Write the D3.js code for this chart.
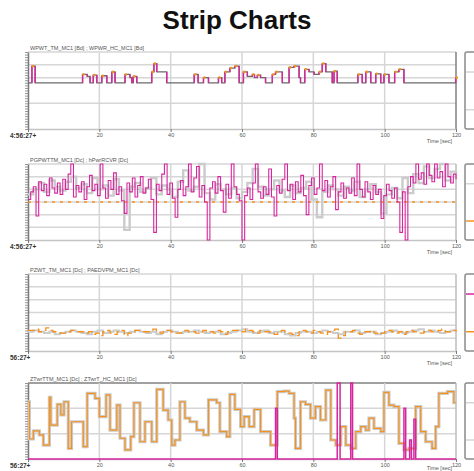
<!DOCTYPE html>
<html>
<head>
<meta charset="utf-8">
<script src="https://cdn.jsdelivr.net/npm/d3@7"></script>
<style>
body { margin: 0; background: #fff; }
svg { display: block; font-family: "Liberation Sans", Arial, sans-serif; }
</style>
</head>
<body>
<div id="chart"></div>
<script>
// ---- data ----
const timeTicks = [0, 20, 40, 60, 80, 100, 120]

const panelTitles = [
    "WPWT_TM_MC1 [Bd] ; WPWR_HC_MC1 [Bd]",
    "PGPWTTM_MC1 [Dc] ; hPwrRCVR [Dc]",
    "PZWT_TM_MC1 [Dc] ; PAEDVPM_MC1 [Dc]",
    "ZTwrTTM_MC1 [Dc] ; ZTwrT_HC_MC1 [Dc]"
]
const stampLabels = ["4:56:27+", "4:56:27+", "56:27+", "56:27+"]

// panel 1 : step events (time in sec, value)
const p1Time = [0, 1.1, 2.0, 15.3, 16.6, 17.4, 18.3, 19.3, 20.7, 22.1, 23.5, 24.4, 27.2, 28.6, 29.1, 29.5, 30.5,
    34.7, 35.3, 36.1, 38.9, 46.6, 47.7, 49.2, 50.6, 53.4, 54.3, 55.2, 56.6, 58.0, 59.2, 60.4, 61.5, 62.9, 63.5,
    64.3, 65.2, 66.6, 68.5, 69.4, 71.3, 73.2, 74.6, 76.0, 76.4, 77.6, 78.8, 80.2, 81.6, 82.5, 83.5, 85.3, 85.8,
    86.7, 92.5, 93.7, 94.7, 96.1, 97.5, 98.9, 99.8, 101.2, 102.8, 104.0, 105.4, 119.9, 120]
const p1Value = [3.6, 4.9, 3.6, 4.25, 4.1, 3.6, 4.2, 3.6, 4.15, 3.6, 4.45, 3.6, 4.25, 4.0, 3.6, 4.1, 3.6,
    4.45, 5.1, 4.45, 3.6, 4.25, 3.6, 4.0, 3.6, 4.0, 3.6, 4.45, 4.75, 4.9, 3.6, 4.45, 4.1, 4.25, 4.0,
    4.2, 4.0, 3.6, 4.25, 4.45, 3.6, 4.8, 4.9, 4.0, 3.6, 4.65, 4.45, 4.25, 4.45, 5.1, 4.45, 3.6, 4.5,
    3.6, 4.25, 3.6, 4.45, 3.6, 4.3, 3.6, 4.25, 3.6, 4.45, 4.65, 3.6, 4.0, 4.0]

// panel 2 : sampled signals
const p2MagentaStep = 0.75
const p2Magenta = [
    0.2, 0.8, 1.2, -1.1, 1.6, 0.9, 1.4, 0.5, 1.9, 1.1, 0.7, 1.5, 0.6, 1.8, 1.0, 2.2, 3.0, 0.4, 1.3, 0.8,
    1.6, 0.2, 1.2, 2.1, 0.9, 1.4, 0.5, 3.0, 1.1, 0.3, 1.7, 1.0, 2.3, 0.6, 1.2, 0.1, -0.9, 1.5, 0.8, 1.9,
    0.4, 1.3, 2.0, 0.7, 1.1, 1.8, 0.2, -2.4, 1.4, 0.9, 2.2, 3.0, 0.6, 1.5, 0.3, -1.2, 1.0, 1.7, 0.5, 1.2,
    3.0, 0.8, 1.9, 2.8, 0.4, 1.3, 0.0, -3.0, 1.1, 1.6, 0.7, 2.0, 0.9, -0.8, 1.4, 0.3, 3.0, 1.2, 0.6, 0.1,
    -3.0, 0.5, 1.1, 0.2, 1.5, 3.0, 0.8, 0.3, 1.2, 0.6, 2.6, 0.4, -1.1, 1.3, 0.7, 1.8, 3.0, 0.9, 1.4, 0.2,
    1.6, 0.8, 2.1, 0.5, -1.0, 1.3, 1.9, 0.6, 1.1, 3.0, 0.9, 1.7, 0.4, 1.2, 2.0, -0.6, 0.8, 1.5, 0.3, 1.1,
    0.7, 1.9, 0.5, 3.0, 1.0, 0.4, 1.6, 0.8, 0.2, 1.3, 0.6, 1.0, -1.3, 0.5, 1.4, 0.9, 0.3, 1.1, 0.0, -2.4,
    0.8, -3.0, 1.2, 2.0, 1.5, 3.0, 1.8, 2.3, 1.4, 3.0, 2.1, 1.6, 3.0, 1.9, 2.4, 1.2, 3.0, 2.0, 1.5, 2.2, 1.8]
const p2GrayStep = 1.5
const p2Gray = [
    0.6, 1.0, 1.5, 0.8, 1.7, 1.2, 0.9, 1.6, 2.0, 1.1, 1.4, 0.7, 1.9, 1.0, 1.3, 0.5, 1.8, 0.9, -2.2, 1.2,
    1.5, 0.8, 1.1, 1.9, 0.6, 1.3, 1.0, 0.4, 1.6, 2.5, 0.9, 1.2, 3.0, 0.7, 0.2, 1.4, 1.0, 0.6, 1.1, 0.3,
    0.8, 1.5, 2.6, 1.2, 0.5, 1.0, 1.7, 0.9, 0.4, 1.3, 0.7, 1.1, 1.6, 0.2, -1.2, 0.8, 1.3, 1.0, 0.5, 1.2,
    0.9, 1.6, 0.4, 1.0, 1.4, 0.8, -0.9, 0.6, 1.1, 0.3, 1.9, 0.7, 2.2, 1.5, 2.8, 1.9, 2.6, 3.0, 1.7, 2.4, 1.8]
const p2Ref = 0

// panel 3 : sampled signals
const p3OrangeStep = 1
const p3Orange = [
    1.6, 1.6, 1.7, 1.5, 1.6, 1.8, 1.6, 1.5, 1.5, 1.4, 1.4, 1.5, 1.6, 1.6, 1.5, 1.5, 1.4, 1.5, 1.3, 1.4,
    1.2, 1.5, 1.6, 1.4, 1.3, 1.5, 1.6, 1.2, 1.4, 1.5, 1.6, 1.6, 1.5, 1.5, 1.6, 1.7, 1.5, 1.4, 1.5, 1.6,
    1.5, 1.4, 1.4, 1.5, 1.6, 1.5, 1.5, 1.4, 1.5, 1.6, 1.5, 1.5, 1.4, 1.6, 1.5, 1.3, 1.5, 1.6, 1.6, 1.5,
    1.5, 1.7, 1.6, 1.5, 1.4, 1.6, 1.5, 1.5, 1.4, 1.3, 1.5, 1.6, 1.5, 1.4, 1.3, 1.2, 1.5, 1.6, 1.5, 1.4,
    1.6, 1.5, 1.4, 1.3, 1.5, 1.6, 1.7, 1.0, 1.2, 1.5, 1.5, 1.6, 1.4, 1.3, 1.5, 1.5, 1.6, 1.4, 1.3, 1.4,
    1.5, 1.6, 1.5, 1.4, 1.5, 1.3, 1.5, 1.6, 1.5, 1.5, 1.4, 1.5, 1.6, 1.5, 1.5, 1.6, 1.7, 1.5, 1.5, 1.6, 1.5]
const p3GrayStep = 1.5
const p3Gray = [
    1.5, 1.6, 1.5, 1.4, 1.5, 1.3, 1.4, 1.5, 1.6, 1.5, 1.4, 1.3, 1.5, 1.6, 1.4, 1.5, 1.6, 1.5, 1.4, 1.5,
    1.6, 1.5, 1.4, 1.5, 1.3, 1.5, 1.6, 1.5, 1.4, 1.5, 1.5, 1.6, 1.5, 1.4, 1.5, 1.5, 1.3, 1.4, 1.5, 1.6,
    1.7, 1.5, 1.4, 1.5, 1.6, 1.4, 1.5, 1.5, 1.3, 1.2, 1.4, 1.5, 1.5, 1.4, 1.5, 1.6, 1.5, 1.4, 1.3, 1.5,
    1.5, 1.6, 1.4, 1.5, 1.5, 1.3, 1.4, 1.5, 1.6, 1.5, 1.4, 1.5, 1.6, 1.7, 1.5, 1.6, 1.5, 1.4, 1.5, 1.6, 1.5]

// panel 4 : step events
const p4Time = [0, 0.4, 1.5, 3.2, 4.3, 6.0, 6.4, 8.2, 9.2, 10.1, 11.3, 12.2, 15.5, 16.6, 18.8, 20.0, 21.9, 23.0,
    24.9, 25.8, 27.2, 28.8, 29.7, 31.4, 32.8, 34.7, 36.1, 37.9, 39.3, 40.3, 41.2, 42.6, 44.0, 45.4, 47.3, 49.2,
    50.6, 52.9, 53.8, 55.7, 56.6, 58.0, 59.6, 60.6, 62.0, 63.4, 65.2, 68.0, 69.9, 71.8, 73.2, 74.6, 75.0, 76.4,
    77.8, 79.2, 80.6, 82.0, 83.5, 84.9, 86.3, 87.7, 89.1, 90.5, 91.9, 93.3, 94.7, 95.6, 97.0, 98.9, 99.8, 101.2,
    102.6, 104.0, 105.4, 106.8, 108.7, 110.1, 111.5, 113.3, 114.3, 115.2, 117.6, 119.4, 120]
const p4Orange = [2.26, 0.79, 1.11, 0.95, 0.55, 2.43, 1.34, 2.16, 1.74, 2.26, 0.42, 1.47, 0.49, 2.59, 2.39, 1.67, 2.53, 1.14,
    2.13, 0.82, 0.36, 0.88, 2.22, 0.68, 1.47, 0.68, 2.75, 1.93, 1.54, 0.55, 0.75, 2.26, 1.61, 1.47, 1.14, 0.95,
    2.33, 2.22, 1.08, 0.88, 2.55, 1.96, 1.28, 1.67, 1.28, 1.96, 1.08, 0.55, 2.66, 2.68, 2.59, 1.61, 0.42, 2.26,
    2.16, 1.61, 2.07, 1.54, 2.72, 0.75, 0.55, 1.28, 0.55, 0.42, 1.08, 1.28, 1.14, 1.61, 1.21, 1.08, 2.63, 2.13,
    2.07, 0.62, 0.36, 0.42, 2.07, 1.08, 0.68, 0.42, 1.28, 2.59, 2.66, 2.22, 2.22]
const p4MagTime = [0, 69.4, 69.9, 86.7, 87.5, 90.5, 91.0, 105.4, 105.9, 107.0, 107.5, 108.2, 108.7, 120]
const p4Magenta = [0, 2.0, 0, 3.0, 0, 3.0, 0, 2.0, 0, 0.75, 0, 1.57, 0, 0]

// ---- layout ----
const width = 474
const height = 471
const colors = {
    magenta: "#d6269e",
    orange: "#f5921e",
    grid: "#d6d6d6",
    lightSeries: "#cbcbcb",
    dark: "#6a6a6a",
    axis: "#7a7a7a",
    text: "#555"
}

const panels = [
    { top: 52, bottom: 129, domain: [0, 6], grid: [2, 4, 5], legend: [colors.grid, colors.grid] },
    { top: 164, bottom: 240, domain: [-3, 3], grid: [-2, -1, 0, 1, 2], legend: [colors.grid, colors.orange] },
    { top: 274, bottom: 351, domain: [0, 6], grid: [1, 2, 3, 4, 5], legend: [colors.magenta, colors.orange] },
    { top: 383, bottom: 459, domain: [0, 3], grid: [1, 2], legend: [colors.grid, colors.grid] }
]

const svg = d3.select('#chart')
    .append('svg')
    .attr('width', width)
    .attr('height', height)

svg.append('text')
    .attr('x', width / 2)
    .attr('y', 29)
    .attr('text-anchor', 'middle')
    .style('font-size', '26px')
    .style('font-weight', 'bold')
    .attr('fill', '#111')
    .text('Strip Charts')

const xScale = d3.scaleLinear().domain([0, 120]).range([28, 456])

const stepLine = (yScale) => d3.line()
    .x(d => xScale(d[0]))
    .y(d => yScale(d[1]))
    .curve(d3.curveStepAfter)

const pairs = (times, values) => values.map((v, i) => [times[i], v])
const sampled = (values, dt) => values.map((v, i) => [i * dt, v])

panels.forEach((p, k) => {
    const yScale = d3.scaleLinear().domain(p.domain).range([p.bottom, p.top])
    p.y = yScale
    const g = svg.append('g').attr('class', 'panel')

    // top border
    g.append('line')
        .attr('x1', xScale(0)).attr('x2', xScale(120))
        .attr('y1', p.top).attr('y2', p.top)
        .attr('stroke', k === 3 ? '#a0a0a0' : colors.grid)
        .attr('stroke-width', k === 3 ? 2 : 1.5)

    // vertical grid
    g.selectAll('.vgrid')
        .data(timeTicks.slice(1, -1))
        .join('line')
        .attr('class', 'vgrid')
        .attr('x1', d => xScale(d)).attr('x2', d => xScale(d))
        .attr('y1', p.top).attr('y2', p.bottom)
        .attr('stroke', colors.grid)
        .attr('stroke-width', 1.5)

    // horizontal grid
    g.selectAll('.hgrid')
        .data(p.grid)
        .join('line')
        .attr('class', 'hgrid')
        .attr('x1', xScale(0)).attr('x2', xScale(120))
        .attr('y1', d => yScale(d)).attr('y2', d => yScale(d))
        .attr('stroke', colors.grid)
        .attr('stroke-width', 1.5)

    // right edge
    g.append('line')
        .attr('x1', xScale(120)).attr('x2', xScale(120))
        .attr('y1', p.top).attr('y2', p.bottom)
        .attr('stroke', k === 0 ? '#808080' : '#bdbdbd')
        .attr('stroke-width', 1.5)

    // x axis
    const xAxis = d3.axisBottom(xScale)
        .tickValues(timeTicks)
        .tickSize(3)
        .tickSizeOuter(0)
        .tickFormat(d => d === 0 ? '' : d)

    const xAxisDraw = g.append('g')
        .attr('class', 'x axis')
        .attr('transform', `translate(0, ${p.bottom})`)
        .call(xAxis)
    xAxisDraw.select('.domain').attr('stroke', '#c4c4c4').attr('stroke-width', 1.5)
    xAxisDraw.selectAll('.tick line').attr('stroke', colors.axis)
    xAxisDraw.selectAll('text')
        .attr('y', 4)
        .attr('fill', colors.text)
        .style('font-size', '5.5px')

    // y axis, minor ticks only
    const yAxis = d3.axisLeft(yScale)
        .ticks(24)
        .tickSize(3)
        .tickSizeOuter(0)
        .tickFormat('')
    const yAxisDraw = g.append('g')
        .attr('class', 'y axis')
        .attr('transform', `translate(${xScale(0)}, 0)`)
        .call(yAxis)
    yAxisDraw.select('.domain').attr('stroke', colors.axis).attr('stroke-width', 1.5)
    yAxisDraw.selectAll('.tick line').attr('stroke', colors.axis).attr('stroke-width', 0.8)

    // titles and labels
    g.append('text')
        .attr('x', xScale(0) + 2)
        .attr('y', p.top - 2)
        .attr('fill', colors.text)
        .style('font-size', '5.5px')
        .text(panelTitles[k])

    g.append('text')
        .attr('x', 10)
        .attr('y', p.bottom + 9)
        .attr('fill', '#333')
        .style('font-size', '6.5px')
        .style('font-weight', 'bold')
        .text(stampLabels[k])

    g.append('text')
        .attr('x', 452)
        .attr('y', Math.min(p.bottom + 14, height - 1.5))
        .attr('text-anchor', 'end')
        .attr('fill', colors.text)
        .style('font-size', '5.5px')
        .text('Time [sec]')

    // legend box (clipped at the right edge)
    const legend = g.append('g').attr('class', 'legend')
    legend.append('rect')
        .attr('x', 465)
        .attr('y', p.top)
        .attr('width', 30)
        .attr('height', p.bottom - p.top)
        .attr('rx', 2)
        .attr('fill', '#fff')
        .attr('stroke', '#8a8a8a')
        .attr('stroke-width', 1.5)
    legend.selectAll('.entry')
        .data(p.legend)
        .join('line')
        .attr('class', 'entry')
        .attr('x1', 466).attr('x2', 474)
        .attr('y1', (d, i) => p.top + (p.bottom - p.top) * (i === 0 ? 0.26 : 0.75))
        .attr('y2', (d, i) => p.top + (p.bottom - p.top) * (i === 0 ? 0.26 : 0.75))
        .attr('stroke', d => d)
        .attr('stroke-width', 1.5)
})

// ---- panel 1 ----
{
    const p = panels[0]
    const data = pairs(p1Time, p1Value)
    const g = svg.append('g').attr('class', 'series')
    g.append('path')
        .datum(data)
        .attr('d', stepLine(p.y))
        .attr('fill', 'none')
        .attr('stroke', colors.dark)
        .attr('stroke-width', 1.3)

    const edges = data.slice(1).map((d, i) => ({ t: d[0], from: data[i][1], to: d[1] }))
        .filter(e => e.from !== e.to)
    g.selectAll('.edge')
        .data(edges)
        .join('line')
        .attr('class', 'edge')
        .attr('x1', d => xScale(d.t)).attr('x2', d => xScale(d.t))
        .attr('y1', d => p.y(d.from)).attr('y2', d => p.y(d.to))
        .attr('stroke', colors.magenta)
        .attr('stroke-width', 1.4)

    g.selectAll('.peak')
        .data(edges.filter(e => e.to > e.from))
        .join('circle')
        .attr('class', 'peak')
        .attr('cx', d => xScale(d.t) + 1)
        .attr('cy', d => p.y(d.to))
        .attr('r', 1.3)
        .attr('fill', colors.orange)
}

// ---- panel 2 ----
{
    const p = panels[1]
    const g = svg.append('g').attr('class', 'series')
    g.append('path')
        .datum(sampled(p2Gray, p2GrayStep))
        .attr('d', stepLine(p.y))
        .attr('fill', 'none')
        .attr('stroke', colors.lightSeries)
        .attr('stroke-width', 2.4)
    g.append('line')
        .attr('x1', xScale(0)).attr('x2', xScale(120))
        .attr('y1', p.y(p2Ref)).attr('y2', p.y(p2Ref))
        .attr('stroke', colors.orange)
        .attr('stroke-width', 1.5)
        .attr('stroke-dasharray', '3,5')
    g.append('path')
        .datum(sampled(p2Magenta, p2MagentaStep))
        .attr('d', stepLine(p.y))
        .attr('fill', 'none')
        .attr('stroke', colors.magenta)
        .attr('stroke-width', 1.1)
}

// ---- panel 3 ----
{
    const p = panels[2]
    const g = svg.append('g').attr('class', 'series')
    g.append('path')
        .datum(sampled(p3Gray, p3GrayStep))
        .attr('d', stepLine(p.y))
        .attr('fill', 'none')
        .attr('stroke', colors.lightSeries)
        .attr('stroke-width', 2)
    g.append('path')
        .datum(sampled(p3Orange, p3OrangeStep))
        .attr('d', stepLine(p.y))
        .attr('fill', 'none')
        .attr('stroke', colors.orange)
        .attr('stroke-width', 1.3)
        .attr('stroke-dasharray', '7,4')
}

// ---- panel 4 ----
{
    const p = panels[3]
    const g = svg.append('g').attr('class', 'series')
    const data = pairs(p4Time, p4Orange)
    g.append('path')
        .datum(data)
        .attr('d', stepLine(p.y))
        .attr('fill', 'none')
        .attr('stroke', colors.lightSeries)
        .attr('stroke-width', 3.2)
    g.append('path')
        .datum(data)
        .attr('d', stepLine(p.y))
        .attr('fill', 'none')
        .attr('stroke', colors.orange)
        .attr('stroke-width', 1.2)
    g.append('path')
        .datum(pairs(p4MagTime, p4Magenta))
        .attr('d', stepLine(p.y))
        .attr('fill', 'none')
        .attr('stroke', colors.magenta)
        .attr('stroke-width', 1.5)
}
</script>
</body>
</html>
